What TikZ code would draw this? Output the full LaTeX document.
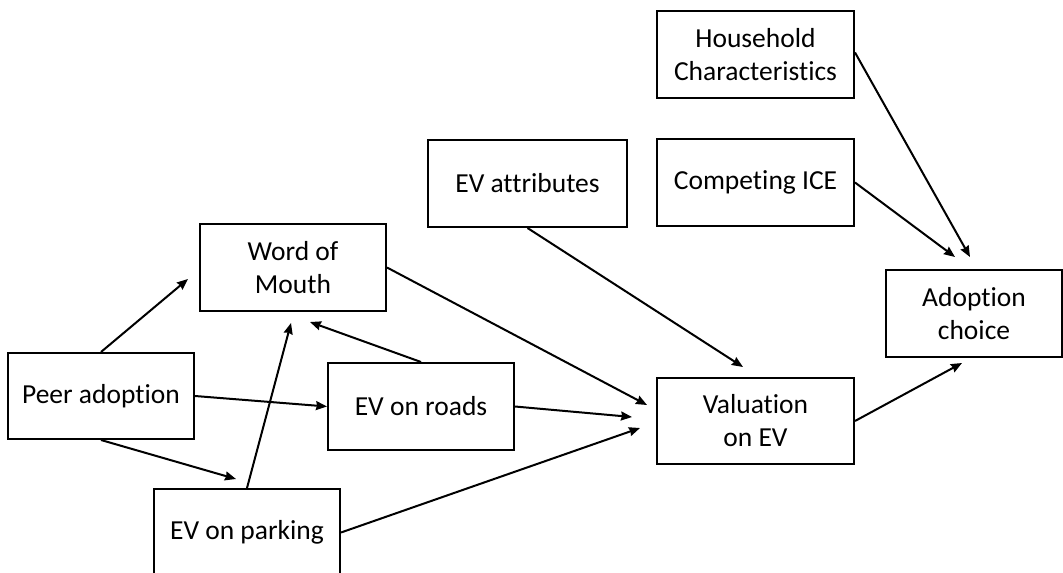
\documentclass[tikz,border=0pt]{standalone}
\usepackage{fontspec}
\setmainfont{Carlito}[Ligatures={NoCommon}]
\usetikzlibrary{arrows.meta}
\begin{document}
\begin{tikzpicture}[x=1pt,y=-1pt,
  box/.style={draw=black,line width=2pt,fill=white,inner sep=0pt,align=center,
    font=\fontsize{27.5}{33}\selectfont},
  arr/.style={line width=2pt,-{Stealth[length=11pt,width=9pt,inset=1pt]}}]
\useasboundingbox (0,0) rectangle (1063,573);
\clip (0,0) rectangle (1063,573);
\node[box,minimum width=197pt,minimum height=87pt] (hh) at (755.5,54.5) {Household\\Characteristics};
\node[box,minimum width=197pt,minimum height=87pt] (ice) at (755.5,182.5) {Competing ICE};
\node[box,minimum width=199pt,minimum height=87pt] (attr) at (527.5,183.5) {EV attributes};
\node[box,minimum width=186pt,minimum height=87pt] (wom) at (293,267.5) {Word of\\Mouth};
\node[box,minimum width=176pt,minimum height=87pt] (adopt) at (974,313.5) {Adoption\\choice};
\node[box,minimum width=186pt,minimum height=86pt] (peer) at (101,396) {Peer adoption};
\node[box,minimum width=186pt,minimum height=87pt] (roads) at (421,406.5) {EV on roads};
\node[box,minimum width=197pt,minimum height=86pt] (val) at (755.5,421) {Valuation\\on EV};
\node[box,minimum width=186pt,minimum height=87pt] (park) at (247,532.5) {EV on parking};
% arrow end points
\coordinate (e1) at (188,279);
\coordinate (e2) at (236,479);
\coordinate (e3) at (291,323);
\coordinate (e4) at (310,322);
\coordinate (e5) at (647,405);
\coordinate (e6) at (632,417);
\coordinate (e7) at (640,428);
\coordinate (e8) at (743,367);
\coordinate (e9) at (962,363);
\coordinate (e10) at (955,257);
\coordinate (e11) at (970,257);
\draw[arr] (peer.north) -- (e1);
\draw[arr] (peer.east) -- (roads.west);
\draw[arr] (peer.south) -- (e2);
\draw[arr] (park.north) -- (e3);
\draw[arr] (roads.north) -- (e4);
\draw[arr] (wom.east) -- (e5);
\draw[arr] (roads.east) -- (e6);
\draw[arr] (park.east) -- (e7);
\draw[arr] (attr.south) -- (e8);
\draw[arr] (val.east) -- (e9);
\draw[arr] (ice.east) -- (e10);
\draw[arr] ([yshift=2pt]hh.east) -- (e11);
\end{tikzpicture}
\end{document}
